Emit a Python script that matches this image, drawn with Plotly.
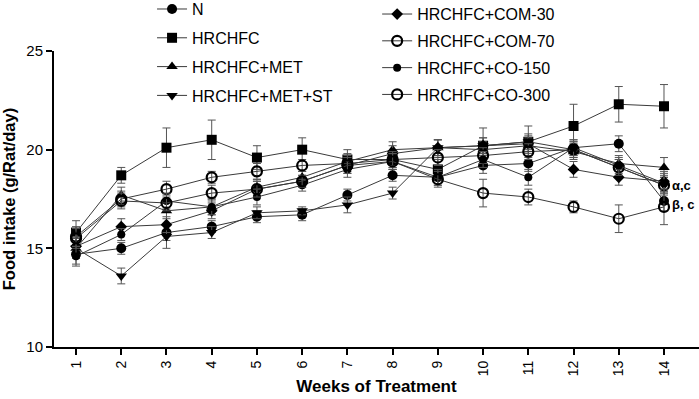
import plotly.graph_objects as go

weeks = list(range(1, 15))
week_labels = [str(w) for w in weeks]

names = ["N", "HRCHFC", "HRCHFC+MET", "HRCHFC+MET+ST",
         "HRCHFC+COM-30", "HRCHFC+COM-70", "HRCHFC+CO-150", "HRCHFC+CO-300"]

n_vals      = [14.7, 15.0, 15.8, 16.1, 16.6, 16.7, 17.7, 18.7, 18.6, 19.2, 19.3, 20.1, 20.3, 17.4]
hrchfc_vals = [15.8, 18.7, 20.1, 20.5, 19.6, 20.0, 19.5, 19.5, 19.0, 20.2, 20.4, 21.2, 22.3, 22.2]
met_vals    = [15.0, 17.7, 16.9, 17.1, 18.1, 18.6, 19.4, 20.0, 20.1, 20.0, 20.2, 19.9, 19.3, 19.1]
metst_vals  = [15.0, 13.6, 15.6, 15.8, 16.8, 16.9, 17.2, 17.8, 20.1, 20.2, 20.4, 20.0, 19.1, 18.2]
com30_vals  = [15.1, 16.1, 16.2, 16.9, 18.0, 18.4, 19.2, 19.8, 20.1, 20.2, 20.3, 19.0, 18.6, 18.4]
com70_vals  = [15.6, 17.5, 18.0, 18.6, 18.9, 19.2, 19.3, 19.5, 19.6, 19.7, 19.9, 20.0, 19.1, 18.2]
co150_vals  = [14.6, 15.7, 17.4, 17.1, 17.6, 18.2, 19.0, 19.4, 18.6, 19.5, 18.6, 20.1, 19.2, 18.3]
co300_vals  = [15.5, 17.4, 17.3, 17.8, 18.0, 18.4, 19.2, 19.4, 18.5, 17.8, 17.6, 17.1, 16.5, 17.1]

n_err      = [0.5, 0.3, 0.4, 0.3, 0.3, 0.3, 0.3, 0.3, 0.4, 0.4, 0.4, 0.4, 0.4, 0.5]
hrchfc_err = [0.6, 0.4, 1.0, 1.0, 0.6, 0.6, 0.5, 0.4, 0.5, 0.9, 0.8, 1.1, 0.9, 1.1]
met_err    = [0.5, 0.4, 0.4, 0.4, 0.4, 0.3, 0.4, 0.4, 0.4, 0.4, 0.4, 0.4, 0.4, 0.5]
metst_err  = [0.5, 0.4, 0.6, 0.3, 0.3, 0.2, 0.4, 0.3, 0.4, 0.4, 0.4, 0.4, 0.4, 0.4]
com30_err  = [0.5, 0.4, 0.4, 0.4, 0.4, 0.3, 0.4, 0.4, 0.4, 0.4, 0.4, 0.4, 0.4, 0.5]
com70_err  = [0.5, 0.4, 0.4, 0.3, 0.4, 0.3, 0.4, 0.4, 0.4, 0.4, 0.4, 0.4, 0.4, 0.5]
co150_err  = [0.5, 0.3, 0.4, 0.4, 0.4, 0.3, 0.4, 0.4, 0.4, 0.4, 0.4, 0.4, 0.4, 0.5]
co300_err  = [0.5, 0.4, 0.4, 0.4, 0.4, 0.3, 0.4, 0.4, 0.4, 0.7, 0.4, 0.3, 0.7, 0.9]

series = [n_vals, hrchfc_vals, met_vals, metst_vals, com30_vals, com70_vals, co150_vals, co300_vals]
errors = [n_err, hrchfc_err, met_err, metst_err, com30_err, com70_err, co150_err, co300_err]
symbols = ["circle", "square", "triangle-up", "triangle-down",
           "diamond", "circle-open", "circle", "circle-open"]
sizes = [10, 10, 10, 10, 9, 10, 8, 10]

annot_texts = ["α,c", "β, c"]
annot_values = [18.2, 17.2]

FONT = "Liberation Sans, Arial, sans-serif"

fig = go.Figure()
for i, (nm, ys, er, sym, sz) in enumerate(zip(names, series, errors, symbols, sizes)):
    open_marker = sym.endswith("open")
    fig.add_trace(go.Scatter(
        x=weeks, y=ys, name=nm, mode="lines+markers",
        line=dict(color="#3a3a3a", width=1),
        marker=dict(symbol=sym, size=sz, color="black",
                    line=dict(color="black", width=2.2 if open_marker else 0)),
        error_y=dict(type="data", array=er, visible=True, color="#555555",
                     thickness=1, width=4),
        legend="legend" if i < 4 else "legend2",
        legendgroup=nm,
    ))

for t, v in zip(annot_texts, annot_values):
    fig.add_annotation(x=14, y=v, text="<b>" + t + "</b>", showarrow=False,
                       xanchor="left", yanchor="middle", xshift=6,
                       font=dict(size=13, color="black"))

legend_style = dict(bgcolor="rgba(0,0,0,0)", font=dict(size=16, color="black"),
                    itemwidth=30, xanchor="left", yanchor="top")

fig.update_layout(
    width=699, height=399,
    margin=dict(l=54, r=0, t=51, b=52, autoexpand=False),
    paper_bgcolor="white", plot_bgcolor="white",
    font=dict(family=FONT, color="black"),
    showlegend=True,
    legend=dict(x=0.152, y=1.199, tracegroupgap=5, **legend_style),
    legend2=dict(x=0.501, y=1.182, tracegroupgap=3, **legend_style),
    xaxis=dict(
        range=[0.513, 14.774], tickmode="array", tickvals=weeks, ticktext=week_labels,
        tickangle=-90, ticks="outside", ticklen=6, tickwidth=2, tickcolor="black",
        showline=True, linecolor="black", linewidth=2, showgrid=False, zeroline=False,
        tickfont=dict(size=14, color="black", family=FONT),
        tickprefix="<b>", ticksuffix="</b>",
        title=dict(text="<b>Weeks of Treatment</b>", font=dict(size=17), standoff=5),
    ),
    yaxis=dict(
        range=[10, 25], tickvals=[10, 15, 20, 25], ticks="outside", ticklen=6,
        tickwidth=2, tickcolor="black",
        showline=True, linecolor="black", linewidth=2, showgrid=False, zeroline=False,
        tickfont=dict(size=15, color="black", family=FONT),
        tickprefix="<b>", ticksuffix="</b>",
        title=dict(text="<b>Food intake (g/Rat/day)</b>", font=dict(size=16.5), standoff=8),
    ),
)

fig.write_html("out.html", config={"displayModeBar": False},
               post_script="document.body.style.margin='0';")
